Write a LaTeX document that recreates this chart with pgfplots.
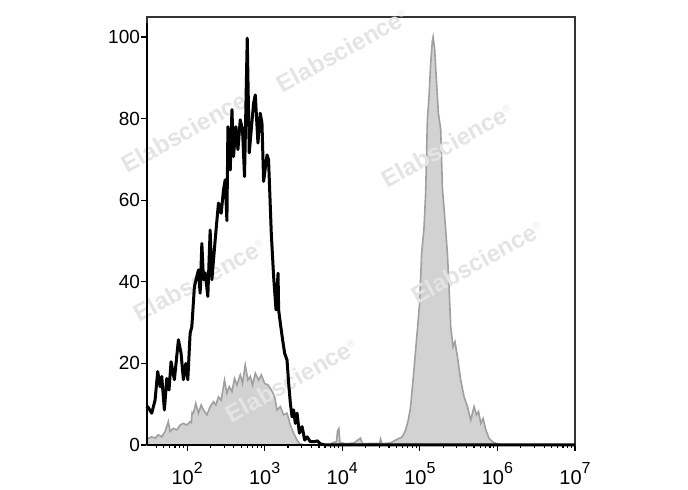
\documentclass[border=0pt]{standalone}
\usepackage{fontspec}
\setmainfont{Liberation Sans}
\usepackage{pgfplots}
\pgfplotsset{compat=1.18}
\definecolor{histfill}{RGB}{210,210,210}
\definecolor{histedge}{RGB}{160,160,160}
\definecolor{wm}{RGB}{228,228,228}
\tikzset{wmark/.style={rotate=29, text=wm, font=\bfseries\fontsize{12}{12}\selectfont}}
\newcommand{\dec}[1]{10\raisebox{5.5pt}{\fontsize{8}{9}\selectfont #1}}

\pgfplotstableread{
x y
1.483 9.0
1.492 9.4
1.544 7.8
1.587 11.0
1.621 18.0
1.651 14.3
1.673 16.8
1.707 8.6
1.738 16.3
1.767 13.5
1.793 20.4
1.836 16.0
1.888 25.8
1.922 22.5
1.952 16.0
1.983 20.0
2.009 16.0
2.039 27.4
2.061 29.0
2.094 38.8
2.125 41.3
2.146 42.9
2.168 37.2
2.190 49.4
2.211 40.5
2.233 42.2
2.267 36.4
2.297 52.7
2.319 40.5
2.362 50.3
2.404 59.3
2.439 56.8
2.469 62.5
2.491 65.0
2.513 55.0
2.526 78.0
2.556 67.4
2.578 82.2
2.598 70.7
2.629 78.0
2.655 72.4
2.685 79.7
2.714 77.3
2.740 65.8
2.775 99.7
2.801 71.6
2.827 77.3
2.857 83.8
2.879 85.8
2.913 74.0
2.943 81.3
2.965 78.9
2.986 64.6
3.030 71.1
3.050 69.9
3.085 51.9
3.115 41.3
3.146 33.1
3.172 42.1
3.180 33.1
3.202 29.8
3.231 25.8
3.257 22.5
3.288 20.8
3.309 15.1
3.331 10.2
3.353 6.9
3.373 8.6
3.395 5.3
3.417 7.8
3.447 2.9
3.482 4.5
3.516 1.2
3.547 2.0
3.589 0.8
3.632 0.8
3.680 1.0
3.718 0.3
3.780 0
7.000 0
}\blackdata

\pgfplotstableread{
x y
1.483 1.5
1.492 1.6
1.544 2.0
1.587 1.7
1.629 2.5
1.673 2.0
1.716 3.3
1.758 5.7
1.780 3.3
1.823 4.1
1.867 3.7
1.910 4.9
1.952 5.3
1.996 4.9
2.039 5.7
2.055 5.5
2.065 8.0
2.081 7.8
2.112 10.2
2.146 7.8
2.181 9.8
2.211 8.6
2.255 7.4
2.297 9.4
2.340 10.6
2.371 9.8
2.404 11.8
2.439 11.0
2.482 15.9
2.513 12.7
2.543 14.3
2.578 13.1
2.611 16.3
2.642 14.7
2.685 17.2
2.714 15.1
2.749 19.6
2.784 15.9
2.814 16.8
2.844 14.7
2.879 17.6
2.921 15.9
2.956 17.2
2.999 15.1
3.043 14.7
3.085 13.5
3.128 11.8
3.159 8.6
3.202 9.4
3.244 7.4
3.288 7.8
3.331 4.9
3.373 2.9
3.417 1.2
3.447 0.4
3.500 0
3.840 0
3.880 0.6
3.925 0.8
3.940 3.5
3.955 4.0
3.970 0.6
4.050 0.3
4.150 0.5
4.235 1.7
4.260 0.3
4.400 0.4
4.480 0.4
4.494 1.5
4.515 0.3
4.620 0.5
4.687 1.2
4.774 2.0
4.817 3.7
4.851 6.1
4.881 9.4
4.924 18.4
4.968 28.2
4.997 34.7
5.023 47.0
5.053 53.0
5.075 62.0
5.097 79.7
5.118 85.4
5.140 93.6
5.161 99.0
5.171 100.0
5.191 97.0
5.213 89.5
5.239 81.3
5.269 77.3
5.291 63.0
5.324 55.0
5.355 47.0
5.376 38.8
5.398 29.0
5.428 24.1
5.453 25.3
5.484 21.7
5.527 15.9
5.570 11.8
5.614 9.4
5.656 6.1
5.699 9.4
5.730 7.4
5.756 8.2
5.786 5.3
5.815 6.5
5.850 3.7
5.893 1.6
5.937 0.8
5.979 0.4
6.040 0
}\graydata

\begin{document}
\fontsize{10}{12}\selectfont
\begin{tikzpicture}
\useasboundingbox (-73.5pt,-22.5pt) rectangle (270.5pt,222.5pt);
\begin{axis}[
  scale only axis, width=214pt, height=214pt,
  at={(0,0)}, anchor=south west,
  xmin=1.483, xmax=7, ymin=0, ymax=104.9,
  xtick={2,3,4,5,6,7},
  xticklabels={\dec{2},\dec{3},\dec{4},\dec{5},\dec{6},\dec{7}},
  minor xtick={1.602,1.699,1.778,1.845,1.903,1.954,
    2.301,2.477,2.602,2.699,2.778,2.845,2.903,2.954,
    3.301,3.477,3.602,3.699,3.778,3.845,3.903,3.954,
    4.301,4.477,4.602,4.699,4.778,4.845,4.903,4.954,
    5.301,5.477,5.602,5.699,5.778,5.845,5.903,5.954,
    6.301,6.477,6.602,6.699,6.778,6.845,6.903,6.954},
  ytick={0,20,40,60,80,100},
  tick align=outside, tick pos=left,
  major tick length=3pt, minor tick length=1.5pt,
  axis line style={draw=black!80, line width=0.6pt},
  tick style={black, line width=0.6pt},
  clip=false,
  /pgf/number format/assume math mode=true,
  xticklabel style={font=\fontsize{10}{12}\selectfont, inner sep=0pt, yshift=-5.5pt},
  yticklabel style={font=\fontsize{9.5}{12}\selectfont, xshift=3pt},
]
\addplot[draw=histedge, line width=0.8pt, fill=histfill] table[x=x,y=y] {\graydata} \closedcycle;
\node[wmark] at (axis description cs:0.096,0.736) {Elabscience\textsuperscript{\normalfont\tiny ®}};
\node[wmark] at (axis description cs:0.458,0.923) {Elabscience\textsuperscript{\normalfont\tiny ®}};
\node[wmark] at (axis description cs:0.703,0.701) {Elabscience\textsuperscript{\normalfont\tiny ®}};
\node[wmark] at (axis description cs:0.124,0.386) {Elabscience\textsuperscript{\normalfont\tiny ®}};
\node[wmark] at (axis description cs:0.773,0.428) {Elabscience\textsuperscript{\normalfont\tiny ®}};
\node[wmark] at (axis description cs:0.339,0.152) {Elabscience\textsuperscript{\normalfont\tiny ®}};
\addplot[black, line width=1.5pt, line join=round] table[x=x,y=y] {\blackdata};
\draw[black, line width=1.2pt] (rel axis cs:0,0) -- (rel axis cs:0,0.985);
\draw[black, line width=1.3pt] (rel axis cs:0,0) -- (rel axis cs:1,0);
\end{axis}
\end{tikzpicture}
\end{document}
